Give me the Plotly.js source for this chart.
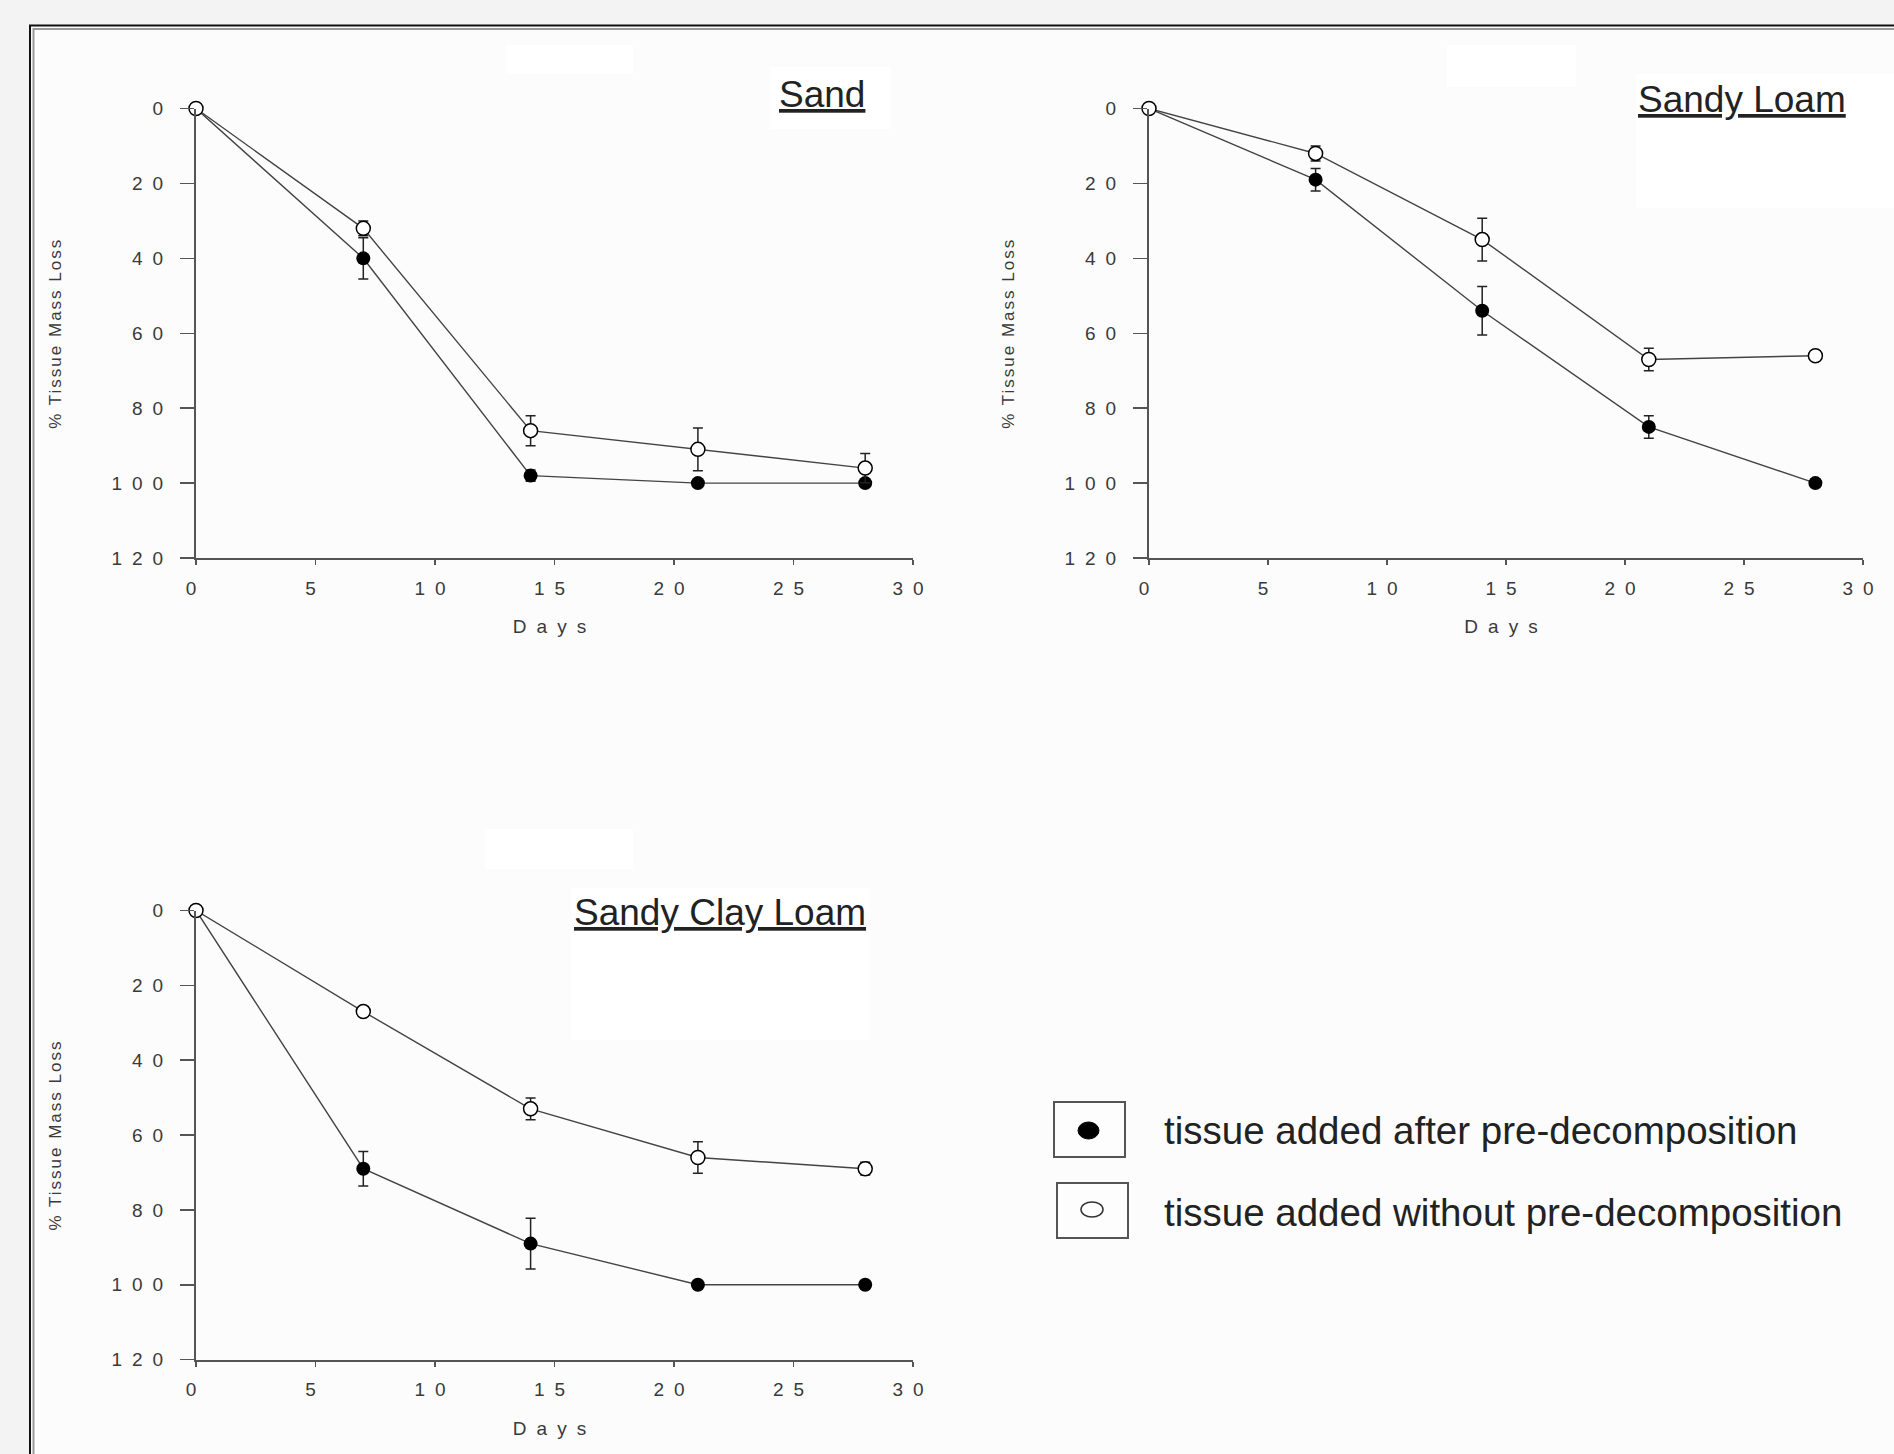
<!DOCTYPE html>
<html>
<head>
<meta charset="utf-8">
<script src="https://cdn.plot.ly/plotly-3.0.1.min.js"></script>
<style>
  html, body { margin: 0; padding: 0; background: #f3f3f3; }
  #chart { width: 1894px; height: 1454px; }
  g[class$="tick"] text { letter-spacing: 10px; }
  text.xtitle, text.x2title, text.x3title { letter-spacing: 10px; }
  text.ytitle, text.y2title, text.y3title { letter-spacing: 2px; }
</style>
</head>
<body>
<div id="chart"></div>
<script>
// ---------------- data ----------------
const days = [0, 7, 14, 21, 28];

const panelTitles = ['Sand', 'Sandy Loam', 'Sandy Clay Loam'];
const seriesNames = ['tissue added after pre-decomposition', 'tissue added without pre-decomposition'];

const sandAfter = [0, 40, 98, 100, 100];
const sandAfterErr = [0, 5.5, 1.5, 0, 0];
const sandWithout = [0, 32, 86, 91, 96];
const sandWithoutErr = [0, 2, 4, 5.7, 3.9];

const sandyLoamAfter = [0, 19, 54, 85, 100];
const sandyLoamAfterErr = [0, 3, 6.5, 3, 0];
const sandyLoamWithout = [0, 12, 35, 67, 66];
const sandyLoamWithoutErr = [0, 2, 5.7, 3, 0];

const sandyClayLoamAfter = [0, 69, 89, 100, 100];
const sandyClayLoamAfterErr = [0, 4.6, 6.8, 0, 0];
const sandyClayLoamWithout = [0, 27, 53, 66, 69];
const sandyClayLoamWithoutErr = [0, 1, 2.9, 4.2, 1.7];

const xTickVals = [0, 5, 10, 15, 20, 25, 30];
const yTickVals = [0, 20, 40, 60, 80, 100, 120];
const xTitle = 'Days';
const yTitle = '% Tissue Mass Loss';

// ---------------- helpers ----------------
const W = 1894, H = 1454;
const px = v => v / W;
const py = v => 1 - v / H;
const FONT = 'Liberation Sans, Arial, Helvetica, sans-serif';

function series(y, err, filled, xa, ya, name) {
  return {
    type: 'scatter', mode: 'lines+markers',
    x: days, y: y, name: name, xaxis: xa, yaxis: ya,
    showlegend: false, cliponaxis: false,
    line: { color: '#444', width: 1.4 },
    marker: {
      symbol: 'circle', size: 14,
      color: filled ? '#000' : '#fff',
      line: { color: '#000', width: filled ? 0 : 1.5 }
    },
    error_y: { type: 'data', array: err, visible: true, color: '#222', thickness: 1.5, width: 5 }
  };
}

const data = [
  series(sandAfter, sandAfterErr, true, 'x', 'y', seriesNames[0]),
  series(sandWithout, sandWithoutErr, false, 'x', 'y', seriesNames[1]),
  series(sandyLoamAfter, sandyLoamAfterErr, true, 'x2', 'y2', seriesNames[0]),
  series(sandyLoamWithout, sandyLoamWithoutErr, false, 'x2', 'y2', seriesNames[1]),
  series(sandyClayLoamAfter, sandyClayLoamAfterErr, true, 'x3', 'y3', seriesNames[0]),
  series(sandyClayLoamWithout, sandyClayLoamWithoutErr, false, 'x3', 'y3', seriesNames[1])
];

function xAxis(domain, anchor) {
  return {
    domain: domain, anchor: anchor, range: [0, 30], autorange: false,
    tickmode: 'array', tickvals: xTickVals,
    showgrid: false, zeroline: false, showline: true,
    linecolor: '#555', linewidth: 2,
    ticks: 'outside', ticklen: 5, tickwidth: 1.5, tickcolor: '#555',
    tickfont: { family: FONT, size: 19, color: '#3a3a3a' },
    ticklabelstandoff: 7,
    title: { text: xTitle, font: { family: FONT, size: 19, color: '#3a3a3a' }, standoff: 22 },
    fixedrange: true
  };
}
function yAxis(domain, anchor) {
  return {
    domain: domain, anchor: anchor, range: [120, 0], autorange: false,
    tickmode: 'array', tickvals: yTickVals,
    showgrid: false, zeroline: false, showline: true,
    linecolor: '#555', linewidth: 2,
    ticks: 'outside', ticklen: 14, tickwidth: 1.5, tickcolor: '#555',
    tickfont: { family: FONT, size: 19, color: '#3a3a3a' },
    ticklabelstandoff: 3,
    title: { text: yTitle, font: { family: FONT, size: 17, color: '#3a3a3a' }, standoff: 46 },
    fixedrange: true
  };
}

const topY = [py(558), py(108.5)];
const botY = [py(1359.6), py(910.5)];
const leftX = [px(196), px(913)];
const rightX = [px(1149), px(1863)];

const shapes = [
  // frame
  { type: 'rect', xref: 'paper', yref: 'paper', x0: px(30), x1: px(1910), y0: py(1470), y1: py(25.5),
    line: { color: '#111', width: 2 }, fillcolor: '#fcfcfc', layer: 'below' },
  { type: 'rect', xref: 'paper', yref: 'paper', x0: px(33.5), x1: px(1910), y0: py(1470), y1: py(29),
    line: { color: '#9a9a9a', width: 2 }, fillcolor: 'rgba(0,0,0,0)', layer: 'below' },
  // white patches behind titles
  { type: 'rect', xref: 'paper', yref: 'paper', x0: px(770), x1: px(891), y0: py(129), y1: py(67), line: { width: 0 }, fillcolor: '#fff', layer: 'below' },
  { type: 'rect', xref: 'paper', yref: 'paper', x0: px(506), x1: px(633), y0: py(74), y1: py(45), line: { width: 0 }, fillcolor: '#fff', layer: 'below' },
  { type: 'rect', xref: 'paper', yref: 'paper', x0: px(1636), x1: px(1894), y0: py(208), y1: py(74), line: { width: 0 }, fillcolor: '#fff', layer: 'below' },
  { type: 'rect', xref: 'paper', yref: 'paper', x0: px(1447), x1: px(1576), y0: py(87), y1: py(45), line: { width: 0 }, fillcolor: '#fff', layer: 'below' },
  { type: 'rect', xref: 'paper', yref: 'paper', x0: px(571), x1: px(870), y0: py(1040), y1: py(888), line: { width: 0 }, fillcolor: '#fff', layer: 'below' },
  { type: 'rect', xref: 'paper', yref: 'paper', x0: px(485), x1: px(633), y0: py(869), y1: py(829), line: { width: 0 }, fillcolor: '#fff', layer: 'below' },
  // legend boxes
  { type: 'rect', xref: 'paper', yref: 'paper', x0: px(1054), x1: px(1125), y0: py(1157), y1: py(1102), line: { color: '#555', width: 2 }, fillcolor: '#fdfdfd' },
  { type: 'rect', xref: 'paper', yref: 'paper', x0: px(1057), x1: px(1128), y0: py(1238), y1: py(1183), line: { color: '#555', width: 2 }, fillcolor: '#fdfdfd' },
  // legend symbols
  { type: 'circle', xref: 'paper', yref: 'paper', x0: px(1078), x1: px(1099), y0: py(1139), y1: py(1122), line: { color: '#000', width: 1 }, fillcolor: '#000' },
  { type: 'circle', xref: 'paper', yref: 'paper', x0: px(1081), x1: px(1103), y0: py(1217), y1: py(1202), line: { color: '#333', width: 1.5 }, fillcolor: '#fff' }
];

const titleFont = { family: FONT, size: 37, color: '#222', lineposition: 'under' };
const legendFont = { family: FONT, size: 38.5, color: '#222' };
const annotations = [
  { xref: 'paper', yref: 'paper', x: px(867), y: py(95), xanchor: 'right', yanchor: 'middle', text: panelTitles[0], showarrow: false, font: titleFont },
  { xref: 'paper', yref: 'paper', x: px(1848), y: py(100), xanchor: 'right', yanchor: 'middle', text: panelTitles[1], showarrow: false, font: titleFont },
  { xref: 'paper', yref: 'paper', x: px(868), y: py(912), xanchor: 'right', yanchor: 'middle', text: panelTitles[2], showarrow: false, font: titleFont },
  { xref: 'paper', yref: 'paper', x: px(1162), y: py(1130), xanchor: 'left', yanchor: 'middle', text: seriesNames[0], showarrow: false, font: legendFont },
  { xref: 'paper', yref: 'paper', x: px(1162), y: py(1212), xanchor: 'left', yanchor: 'middle', text: seriesNames[1], showarrow: false, font: legendFont }
];

const layout = {
  width: W, height: H,
  margin: { l: 0, r: 0, t: 0, b: 0, pad: 0 },
  paper_bgcolor: '#f3f3f3',
  plot_bgcolor: 'rgba(0,0,0,0)',
  showlegend: false,
  font: { family: FONT, color: '#333' },
  xaxis: xAxis(leftX, 'y'),
  yaxis: yAxis(topY, 'x'),
  xaxis2: xAxis(rightX, 'y2'),
  yaxis2: yAxis(topY, 'x2'),
  xaxis3: xAxis(leftX, 'y3'),
  yaxis3: yAxis(botY, 'x3'),
  shapes: shapes,
  annotations: annotations
};

Plotly.newPlot('chart', data, layout, { staticPlot: true, displayModeBar: false });
</script>
</body>
</html>
